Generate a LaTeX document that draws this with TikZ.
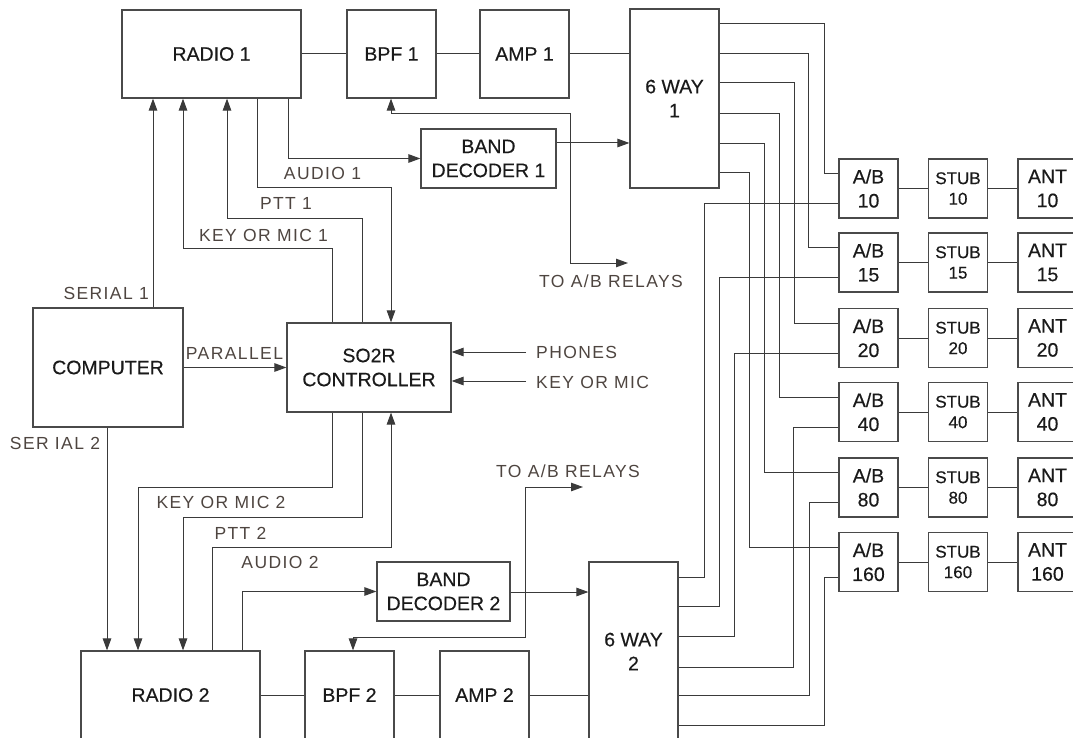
\documentclass[tikz,border=0pt]{standalone}
\usepackage{fontspec}
\setmainfont{Liberation Sans}
\newfontfamily\boxfont[FakeBold=0.4]{Liberation Sans}
\newfontfamily\wirefont[LetterSpace=8]{Liberation Sans}
\usepackage{xcolor}
\usepackage{tikz}
\usetikzlibrary{arrows.meta}
\definecolor{boxColor}{HTML}{4A4A4A}
\definecolor{wireColor}{HTML}{3A3A3A}
\definecolor{textColor}{HTML}{1A1A1A}
\definecolor{labelColor}{HTML}{4E4540}
\tikzset{
	unit/.style={draw=boxColor, line width=1.2pt, inner sep=0pt, align=center, text=textColor, font=\boxfont\fontsize{19.5}{24}\selectfont},
	stage/.style={unit, minimum width=89pt, minimum height=88pt},
	cell/.style={unit, minimum width=59pt, minimum height=59pt},
	stubcell/.style={cell, font=\boxfont\fontsize{17}{20.5}\selectfont},
	wire/.style={draw=wireColor, line width=1pt},
	feed/.style={wire, -{Triangle[length=12pt,width=8.5pt]}},
	tag/.style={text=labelColor, inner sep=0pt, font=\wirefont\fontsize{17.5}{21}\selectfont},
}

\begin{document}
\begin{tikzpicture}[x=1pt, y=-1pt]
	\useasboundingbox (0,0) rectangle (1073,738);
	\node[unit, minimum width=179pt, minimum height=88pt] (radioOne) at (211.5,54) {RADIO 1};
	\node[stage] (bpfOne) at (391.5,54) {BPF 1};
	\node[stage] (ampOne) at (524.5,54) {AMP 1};
	\node[unit, minimum width=89pt, minimum height=179pt] (wayOne) at (674.5,98.5) {6 WAY\\1};
	\node[unit, minimum width=135pt, minimum height=59pt] (decoderOne) at (488.5,158.5) {BAND\\DECODER 1};
	\node[unit, minimum width=150pt, minimum height=119pt] (computer) at (108,367.5) {COMPUTER};
	\node[unit, minimum width=164pt, minimum height=89pt] (controller) at (369,367.5) {SO2R\\CONTROLLER};
	\node[unit, minimum width=133pt, minimum height=59pt] (decoderTwo) at (443.5,591.5) {BAND\\DECODER 2};
	\node[unit, minimum width=179pt, minimum height=88pt] (radioTwo) at (170.5,695) {RADIO 2};
	\node[stage] (bpfTwo) at (349.5,695) {BPF 2};
	\node[stage] (ampTwo) at (484.5,695) {AMP 2};
	\node[unit, minimum width=89pt, minimum height=179pt] (wayTwo) at (633.5,651.5) {6 WAY\\2};
	\foreach \b/\y in {10/188.5,15/262.5,20/338,40/412,80/487.5,160/562} {
		\node[cell] (ab\b) at (868.5,\y) {A/B\\\b};
		\node[stubcell] (stub\b) at (958,\y) {STUB\\\b};
		\node[cell] (ant\b) at (1047.5,\y) {ANT\\\b};
		\draw[wire] (ab\b) -- (stub\b) -- (ant\b);
	}
	\draw[wire] (radioOne) -- (bpfOne) -- (ampOne) -- (ampOne.east -| wayOne.west);
	\draw[wire] (radioTwo) -- (bpfTwo) -- (ampTwo) -- (ampTwo.east -| wayTwo.west);
	\foreach \y/\x/\b in {24/824/10,54/808/15,83/794/20,114/779/40,144/764/80,173/749/160}
		\draw[wire] (wayOne.east |- 0,\y) -- (\x,\y) |- ([yshift=15pt]ab\b.west);
	\foreach \y/\x/\b in {577/704/10,606/719/15,636/734/20,667/793/40,695/809/80,725/824/160}
		\draw[wire] (wayTwo.east |- 0,\y) -- (\x,\y) |- ([yshift=-15pt]ab\b.west);
	\draw[feed] (153,0 |- computer.north) -- (153,0 |- radioOne.south);
	\draw[feed] (107,0 |- computer.south) -- (107,0 |- radioTwo.north);
	\draw[feed] (computer) -- (controller);
	\draw[feed] (332,0 |- controller.north) |- (183,248) -- (183,0 |- radioOne.south);
	\draw[feed] (362,0 |- controller.north) |- (227,218) -- (227,0 |- radioOne.south);
	\draw[feed] (257,0 |- radioOne.south) |- (391,188) -- (391,0 |- controller.north);
	\draw[feed] (288,0 |- radioOne.south) |- (decoderOne.west);
	\draw[feed] (decoderOne.east |- 0,143) -- (wayOne.west |- 0,143);
	\coordinate (splitOne) at (570,143);
	\coordinate (relayOne) at (628,263);
	\draw[feed] (splitOne) |- (391,114) -- (391,0 |- bpfOne.south);
	\draw[feed] (splitOne) |- (relayOne);
	\coordinate (phonesIn) at (526,352);
	\coordinate (keyIn) at (526,381);
	\draw[feed] (phonesIn) -- (controller.east |- phonesIn);
	\draw[feed] (keyIn) -- (controller.east |- keyIn);
	\draw[feed] (332,0 |- controller.south) |- (138,487) -- (138,0 |- radioTwo.north);
	\draw[feed] (362,0 |- controller.south) |- (183,517) -- (183,0 |- radioTwo.north);
	\draw[feed] (212,0 |- radioTwo.north) |- (391,547) -- (391,0 |- controller.south);
	\draw[feed] (242,0 |- radioTwo.north) |- (decoderTwo.west);
	\draw[feed] (decoderTwo.east |- 0,592) -- (wayTwo.west |- 0,592);
	\coordinate (splitTwo) at (525,592);
	\coordinate (relayTwo) at (583,487);
	\draw[feed] (splitTwo) |- (relayTwo);
	\draw[feed] (splitTwo) |- (353,637) -- (353,0 |- bpfTwo.north);
	\node[tag, anchor=east] (serialOneTag) at (149,293) {SERIAL 1};
	\node[tag] (serialTwoTag) at (55,443) {SER IAL 2};
	\node[tag] (parallelTag) at (234.5,353) {PARALLEL};
	\node[tag] (keyOneTag) at (263.5,235) {KEY OR MIC 1};
	\node[tag] (pttOneTag) at (286,203) {PTT 1};
	\node[tag] (audioOneTag) at (322.5,173) {AUDIO 1};
	\node[tag, anchor=west] (relayOneTag) at (539,281) {TO A/B RELAYS};
	\node[tag, anchor=west] (phonesTag) at (536,352) {PHONES};
	\node[tag, anchor=west] (keyInTag) at (536,382) {KEY OR MIC};
	\node[tag, anchor=west] (relayTwoTag) at (496,471) {TO A/B RELAYS};
	\node[tag] (keyTwoTag) at (221,502) {KEY OR MIC 2};
	\node[tag] (pttTwoTag) at (240.5,533) {PTT 2};
	\node[tag] (audioTwoTag) at (280,562) {AUDIO 2};
\end{tikzpicture}
\end{document}
